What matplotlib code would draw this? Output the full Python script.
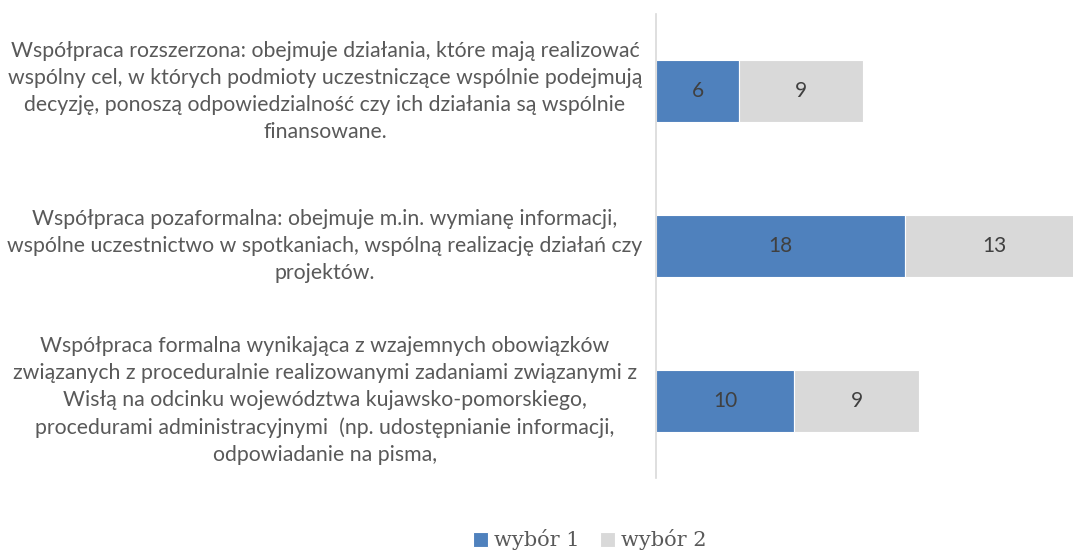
import matplotlib.pyplot as plt
import numpy as np

# dane (od dołu do góry)
kategorie = [
    "Współpraca formalna wynikająca z wzajemnych obowiązków\n"
    "związanych z proceduralnie realizowanymi zadaniami związanymi z\n"
    "Wisłą na odcinku województwa kujawsko-pomorskiego,\n"
    "procedurami administracyjnymi  (np. udostępnianie informacji,\n"
    "odpowiadanie na pisma,",
    "Współpraca pozaformalna: obejmuje m.in. wymianę informacji,\n"
    "wspólne uczestnictwo w spotkaniach, wspólną realizację działań czy\n"
    "projektów.",
    "Współpraca rozszerzona: obejmuje działania, które mają realizować\n"
    "wspólny cel, w których podmioty uczestniczące wspólnie podejmują\n"
    "decyzję, ponoszą odpowiedzialność czy ich działania są wspólnie\n"
    "finansowane.",
]
wybor1 = [10, 18, 6]
wybor2 = [9, 13, 9]
serie = ["wybór 1", "wybór 2"]
kolory = ["#4F81BD", "#D9D9D9"]
kolor_tekstu = "#595959"

fig = plt.figure(figsize=(10.73, 5.5), dpi=100)
ax = fig.add_axes([656 / 1073, 1 - 478 / 550, 1 - 656 / 1073, 464 / 550])

y = np.arange(len(kategorie))
b1 = ax.barh(y, wybor1, height=0.4, color=kolory[0], edgecolor="white", linewidth=0.8, label=serie[0])
b2 = ax.barh(y, wybor2, left=wybor1, height=0.4, color=kolory[1], edgecolor="white", linewidth=0.8, label=serie[1])

# etykiety wartości na środku segmentów
for vals, lefts in [(wybor1, [0] * 3), (wybor2, wybor1)]:
    for i, v in enumerate(vals):
        ax.text(lefts[i] + v / 2, y[i], str(v), ha="center", va="center",
                fontsize=15, color="#404040", family="Lato")

ax.set_xlim(0, 30.15)
ax.set_ylim(-0.5, 2.5)
for s in ["top", "right", "bottom"]:
    ax.spines[s].set_visible(False)
ax.spines["left"].set_color("#D9D9D9")
ax.spines["left"].set_linewidth(1.2)
ax.set_xticks([])
ax.set_yticks([])

# opisy kategorii po lewej stronie
x_opis = -(656 - 325) / 13.83
for i, txt in enumerate(kategorie):
    ax.text(x_opis, y[i], txt, ha="center", va="center", multialignment="center",
            fontsize=15.3, color=kolor_tekstu, family="Lato", linespacing=1.45,
            clip_on=False)

leg = fig.legend(loc="center", bbox_to_anchor=(590 / 1073, 1 - 540 / 550), ncol=2, frameon=False,
                 prop={"family": "DejaVu Serif", "size": 15}, handlelength=0.7,
                 handleheight=0.7, handletextpad=0.3, columnspacing=1.0)
for t in leg.get_texts():
    t.set_color(kolor_tekstu)

fig.savefig("out.png", dpi=100)
